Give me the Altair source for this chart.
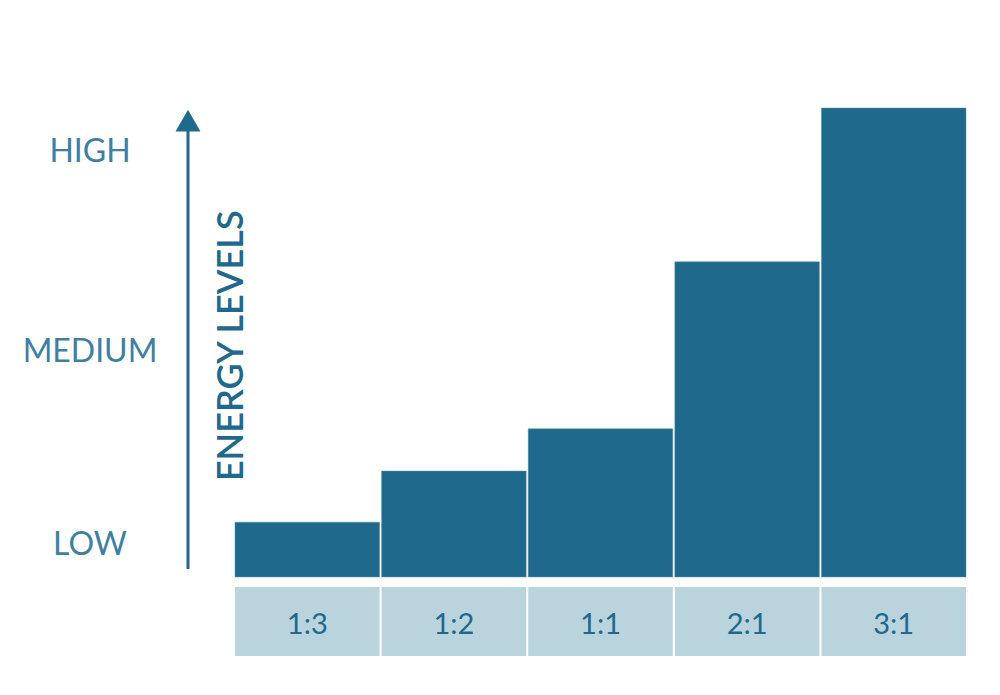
import altair as alt
import pandas as pd

# data
ratios = ["1:3", "1:2", "1:1", "2:1", "3:1"]
energy = [11.7, 22.6, 31.6, 67.2, 100.0]
level_labels = ["LOW", "MEDIUM", "HIGH"]
level_pos = [6.8, 48.0, 90.6]
axis_title = "ENERGY LEVELS"

BAR = "#1f698c"
BOX = "#b9d4dd"
LIGHT_TXT = "#3f7fa2"
FONT = "Lato"

bars_df = pd.DataFrame({"ratio": ratios, "energy": energy})
levels_df = pd.DataFrame({"label": level_labels, "pos": level_pos})
arrow_df = pd.DataFrame({"y0": [1.7], "y1": [96.0], "tip": [97.3]})
title_df = pd.DataFrame({"t": [axis_title], "pos": [49.3]})

xs = alt.Scale(domain=ratios, range=[227, 958], paddingInner=0.014, paddingOuter=0)
ys = alt.Scale(domain=[0, 100], range=[569, 100])

X = alt.X("ratio:N", scale=xs, axis=None, sort=ratios)

bars = alt.Chart(bars_df).mark_bar(color=BAR, stroke="#5b90ac", strokeWidth=0.5).encode(
    x=X,
    y=alt.Y("energy:Q", scale=ys, axis=None),
    y2=alt.datum(0),
)

boxes = alt.Chart(bars_df).mark_rect(color=BOX).encode(
    x=X,
    y=alt.value(579),
    y2=alt.value(648),
)

box_text = alt.Chart(bars_df).mark_text(
    font=FONT, fontSize=29, color=BAR, baseline="middle", align="center"
).encode(
    x=alt.X("ratio:N", scale=xs, axis=None, sort=ratios, bandPosition=0.5),
    y=alt.value(617),
    text="ratio:N",
)

levels = alt.Chart(levels_df).mark_text(
    font=FONT, fontSize=32, color=LIGHT_TXT, baseline="middle", align="center"
).encode(
    x=alt.value(82),
    y=alt.Y("pos:Q", scale=ys, axis=None),
    text="label:N",
)

arrow_line = alt.Chart(arrow_df).mark_rule(color=BAR, strokeWidth=3).encode(
    x=alt.value(180),
    y=alt.Y("y0:Q", scale=ys, axis=None),
    y2="y1:Q",
)

arrow_head = alt.Chart(arrow_df).mark_point(
    shape="triangle-up", size=625, filled=True, color=BAR, opacity=1
).encode(
    x=alt.value(180),
    y=alt.Y("tip:Q", scale=ys, axis=None),
)

title = alt.Chart(title_df).mark_text(
    font=FONT, fontSize=36, fontWeight=600, color=BAR, angle=270,
    baseline="middle", align="center"
).encode(
    x=alt.value(224),
    y=alt.Y("pos:Q", scale=ys, axis=None),
    text="t:N",
)

chart = alt.layer(
    boxes, bars, box_text, levels, arrow_line, arrow_head, title
).properties(
    width=984, height=679, autosize="none", padding=0
).configure_view(strokeWidth=0)

chart.save("out.html", embed_options={"renderer": "svg", "actions": False})
